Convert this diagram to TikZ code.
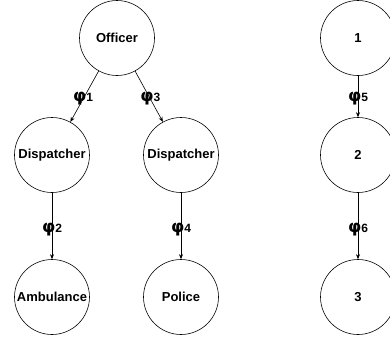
\documentclass[tikz,border=0pt]{standalone}
\usepackage{fontspec}
\setmainfont{Liberation Sans}
\newfontfamily\greekfont{DejaVu Sans}
\usetikzlibrary{arrows.meta}
\newcommand{\phil}[1]{{\greekfont\bfseries\fontsize{17}{17}\selectfont φ}{\fontsize{12}{12}\selectfont #1}}
\begin{document}
\begin{tikzpicture}[
  state/.style={circle, draw, line width=0.6pt, minimum size=75pt, inner sep=0pt, font=\bfseries\fontsize{13}{13}\selectfont},
  link/.style={-{Stealth[length=5pt,width=4pt]}, line width=0.6pt},
  lbl/.style={pos=0.55, inner sep=0pt, font=\bfseries},
  node distance=117pt
]
\useasboundingbox (-117pt,38pt) rectangle (273pt,-303pt);
\node[state] (officer) at (0,0) {Officer};
\node[state, below of=officer, xshift=-65pt] (disp1) {Dispatcher};
\node[state, below of=officer, xshift=64pt] (disp2) {Dispatcher};
\node[state, below of=disp1, node distance=142pt] (amb) {Ambulance};
\node[state, below of=disp2, node distance=142pt] (police) {Police};

\node[state, right of=officer, node distance=241pt] (one) {1};
\node[state, below of=one] (two) {2};
\node[state, below of=two, node distance=142pt] (three) {3};

\draw[link] (officer) -- node[lbl] {\phil{1}} (disp1);
\draw[link] (officer) -- node[lbl] {\phil{3}} (disp2);
\draw[link] (disp1) -- node[lbl] {\phil{2}} (amb);
\draw[link] (disp2) -- node[lbl] {\phil{4}} (police);
\draw[link] (one) -- node[lbl] {\phil{5}} (two);
\draw[link] (two) -- node[lbl] {\phil{6}} (three);
\end{tikzpicture}
\end{document}
